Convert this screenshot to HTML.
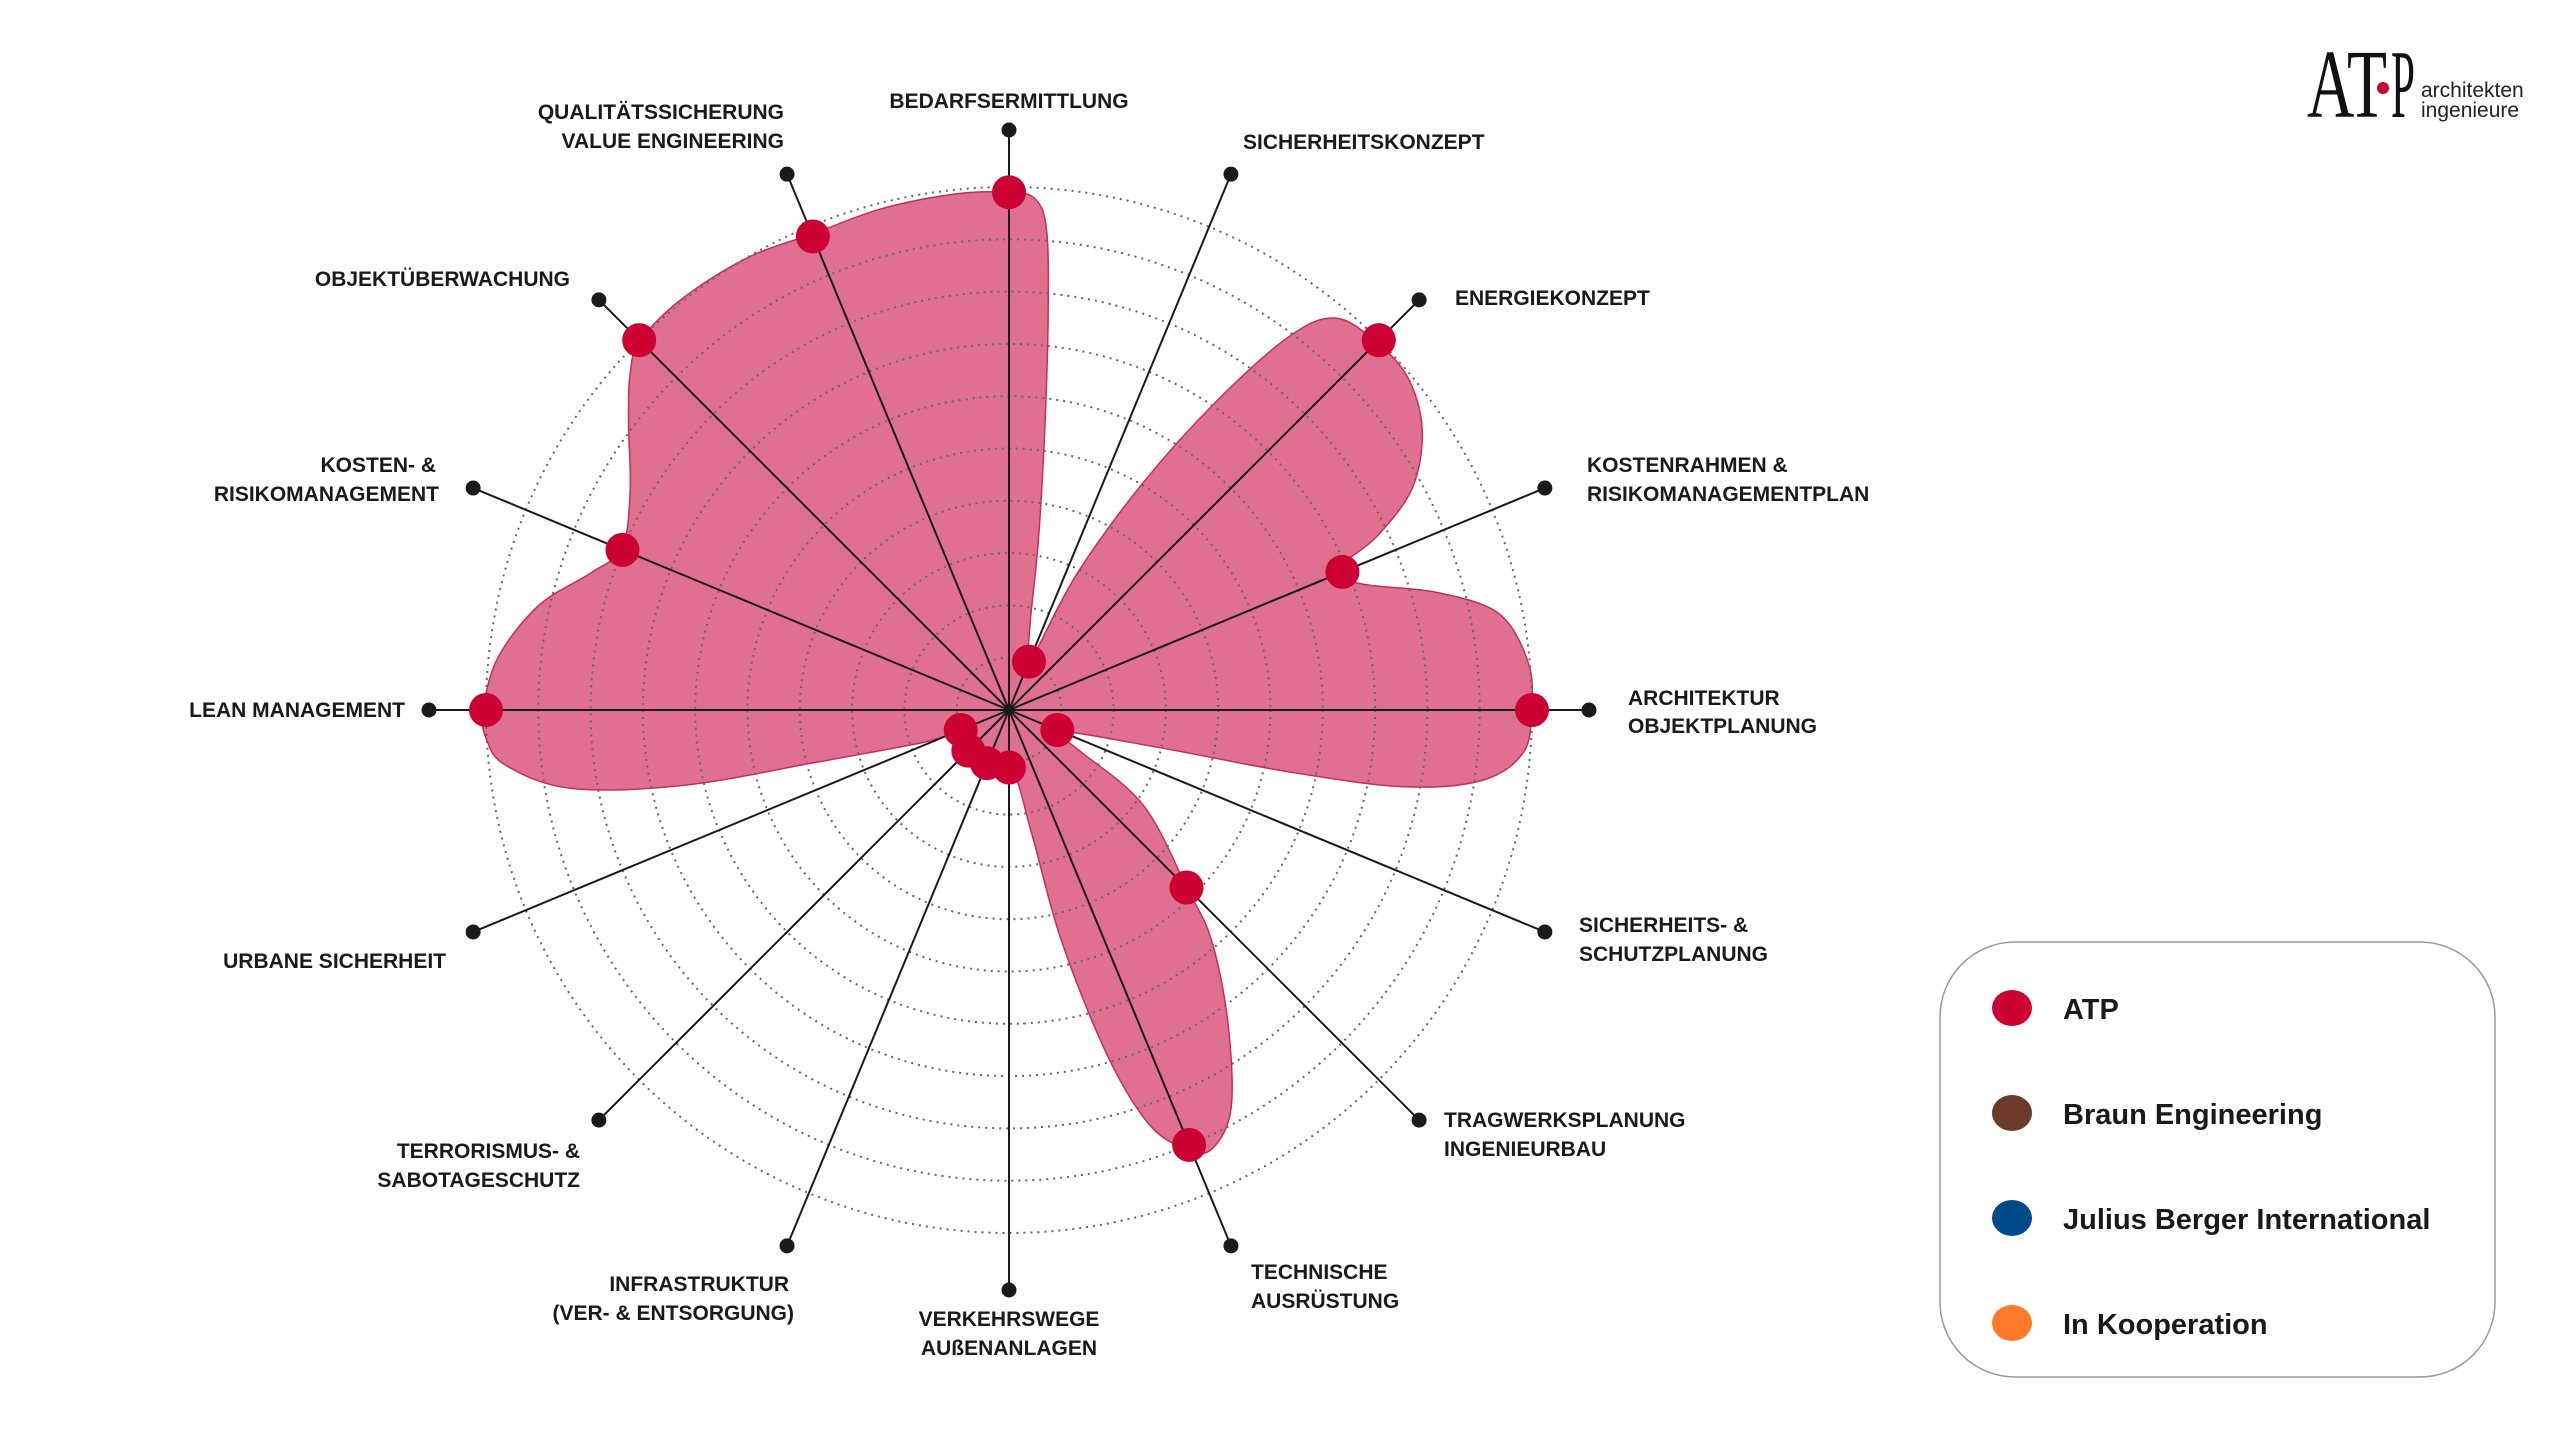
<!DOCTYPE html>
<html><head><meta charset="utf-8"><style>
html,body{margin:0;padding:0;background:#fff;}
svg{display:block;}
.l{font-family:"Liberation Sans",Arial,sans-serif;font-weight:bold;font-size:21px;fill:#1a1a1a;}
.g{font-family:"Liberation Sans",Arial,sans-serif;font-weight:bold;font-size:29px;fill:#1a1a1a;}
</style></head><body>
<svg id="s" width="2560" height="1440" viewBox="0 0 2560 1440" xmlns="http://www.w3.org/2000/svg">
<path id="shape" d="" fill="#e0708f" stroke="#c2305e" stroke-width="1.5"/>
<g id="rings" fill="none" stroke="#666" stroke-width="2" stroke-dasharray="2 5"></g>
<g id="spokes" stroke="#1a1a1a" stroke-width="2"></g>
<g id="dots"></g>

<text class="l" x="1009" y="108" text-anchor="middle">BEDARFSERMITTLUNG</text>
<text class="l" x="784" y="119" text-anchor="end">QUALITÄTSSICHERUNG</text>
<text class="l" x="784" y="148" text-anchor="end">VALUE ENGINEERING</text>
<text class="l" x="1243" y="149">SICHERHEITSKONZEPT</text>
<text class="l" x="570" y="286" text-anchor="end">OBJEKTÜBERWACHUNG</text>
<text class="l" x="1455" y="305">ENERGIEKONZEPT</text>
<text class="l" x="436" y="472" text-anchor="end">KOSTEN- &amp;</text>
<text class="l" x="439" y="501" text-anchor="end">RISIKOMANAGEMENT</text>
<text class="l" x="1587" y="472">KOSTENRAHMEN &amp;</text>
<text class="l" x="1587" y="501">RISIKOMANAGEMENTPLAN</text>
<text class="l" x="405" y="717" text-anchor="end">LEAN MANAGEMENT</text>
<text class="l" x="1628" y="705">ARCHITEKTUR</text>
<text class="l" x="1628" y="733">OBJEKTPLANUNG</text>
<text class="l" x="446" y="968" text-anchor="end">URBANE SICHERHEIT</text>
<text class="l" x="1579" y="932">SICHERHEITS- &amp;</text>
<text class="l" x="1579" y="961">SCHUTZPLANUNG</text>
<text class="l" x="580" y="1158" text-anchor="end">TERRORISMUS- &amp;</text>
<text class="l" x="580" y="1187" text-anchor="end">SABOTAGESCHUTZ</text>
<text class="l" x="1444" y="1127">TRAGWERKSPLANUNG</text>
<text class="l" x="1444" y="1156">INGENIEURBAU</text>
<text class="l" x="789" y="1291" text-anchor="end">INFRASTRUKTUR</text>
<text class="l" x="794" y="1320" text-anchor="end">(VER- &amp; ENTSORGUNG)</text>
<text class="l" x="1009" y="1326" text-anchor="middle">VERKEHRSWEGE</text>
<text class="l" x="1009" y="1355" text-anchor="middle">AUßENANLAGEN</text>
<text class="l" x="1251" y="1279">TECHNISCHE</text>
<text class="l" x="1251" y="1308">AUSRÜSTUNG</text>

<!-- logo -->
<text x="2307" y="117" font-family="'Liberation Serif',serif" font-size="98" fill="#111" textLength="80" lengthAdjust="spacingAndGlyphs">AT</text>
<circle cx="2383" cy="88" r="6" fill="#cc0033"/>
<text x="2391" y="117" font-family="'Liberation Serif',serif" font-size="98" fill="#111" textLength="24" lengthAdjust="spacingAndGlyphs">P</text>
<text x="2421" y="97" font-family="'Liberation Sans',sans-serif" font-size="21" fill="#222">architekten</text>
<text x="2421" y="117" font-family="'Liberation Sans',sans-serif" font-size="21" fill="#222">ingenieure</text>

<!-- legend -->
<rect x="1940" y="942" width="555" height="435" rx="75" ry="75" fill="#fff" stroke="#999" stroke-width="1.5"/>
<ellipse cx="2012" cy="1008" rx="20" ry="18" fill="#cc0033"/>
<text class="g" x="2063" y="1019">ATP</text>
<ellipse cx="2012" cy="1113" rx="20" ry="18" fill="#6b3a2a"/>
<text class="g" x="2063" y="1124">Braun Engineering</text>
<ellipse cx="2012" cy="1218" rx="20" ry="18" fill="#004a8a"/>
<text class="g" x="2063" y="1229">Julius Berger International</text>
<ellipse cx="2012" cy="1323" rx="20" ry="18" fill="#ff7a2a"/>
<text class="g" x="2063" y="1334">In Kooperation</text>
</svg>
<script>
(function(){
var cx=1009,cy=710,R=523,E=580,NS="http://www.w3.org/2000/svg";
var vals=[0.99,0.1,1.0,0.69,1.0,0.1,0.48,0.9,0.11,0.11,0.11,0.1,1.0,0.8,1.0,0.98];
function pt(i,r){var a=i*Math.PI/8;return [cx+r*Math.sin(a),cy-r*Math.cos(a)];}
var rings=document.getElementById('rings');
for(var k=1;k<=10;k++){var c=document.createElementNS(NS,'circle');c.setAttribute('cx',cx);c.setAttribute('cy',cy);c.setAttribute('r',R*k/10);rings.appendChild(c);}
var sp=document.getElementById('spokes'),dots=document.getElementById('dots');
var P=[];
for(var i=0;i<16;i++){
 var e=pt(i,E);var l=document.createElementNS(NS,'line');
 l.setAttribute('x1',cx);l.setAttribute('y1',cy);l.setAttribute('x2',e[0]);l.setAttribute('y2',e[1]);sp.appendChild(l);
 var d=document.createElementNS(NS,'circle');d.setAttribute('cx',e[0]);d.setAttribute('cy',e[1]);d.setAttribute('r',6.5);d.setAttribute('fill','#1a1a1a');sp.appendChild(d);
 P.push(pt(i,vals[i]*R));
}
// traced outline in 1568-scale coords
var T=[[618,117],[634,121],[641,140],[642,190],[640,260],[636,330],[631,380],[630,404],[636,395],[660,350],[700,295],[745,245],[790,205],[818,194],[842,208],[862,230],[871,262],[865,298],[843,328],[818,349],[835,357],[880,362],[918,375],[936,405],[938,434],[933,460],[908,477],[860,481],[790,472],[710,457],[648,447],[660,458],[700,492],[727,543],[742,575],[752,625],[754,678],[742,703],[727,703],[704,688],[678,645],[650,575],[632,510],[620,471],[604,466],[592,457],[587,448],[565,454],[500,466],[420,480],[350,482],[310,468],[298,452],[296,434],[305,402],[330,370],[362,350],[381,335],[386,300],[385,258],[386,228],[392,208],[418,182],[458,157],[499,142],[540,127],[585,118]];
var Q=T.map(function(p){return [cx+(p[0]-618)*1.633,cy+(p[1]-434)*1.633];});
var f=1/6,n=Q.length,s="M"+Q[0][0]+","+Q[0][1];
for(var i=0;i<n;i++){
 var p0=Q[(i-1+n)%n],p1=Q[i],p2=Q[(i+1)%n],p3=Q[(i+2)%n];
 var c1=[p1[0]+(p2[0]-p0[0])*f,p1[1]+(p2[1]-p0[1])*f];
 var c2=[p2[0]-(p3[0]-p1[0])*f,p2[1]-(p3[1]-p1[1])*f];
 s+=" C"+c1[0]+","+c1[1]+" "+c2[0]+","+c2[1]+" "+p2[0]+","+p2[1];
}
document.getElementById('shape').setAttribute('d',s+"Z");
for(var i=0;i<16;i++){var d=document.createElementNS(NS,'circle');d.setAttribute('cx',P[i][0]);d.setAttribute('cy',P[i][1]);d.setAttribute('r',17);d.setAttribute('fill','#cc0033');dots.appendChild(d);}
})();
</script>
</body></html>
